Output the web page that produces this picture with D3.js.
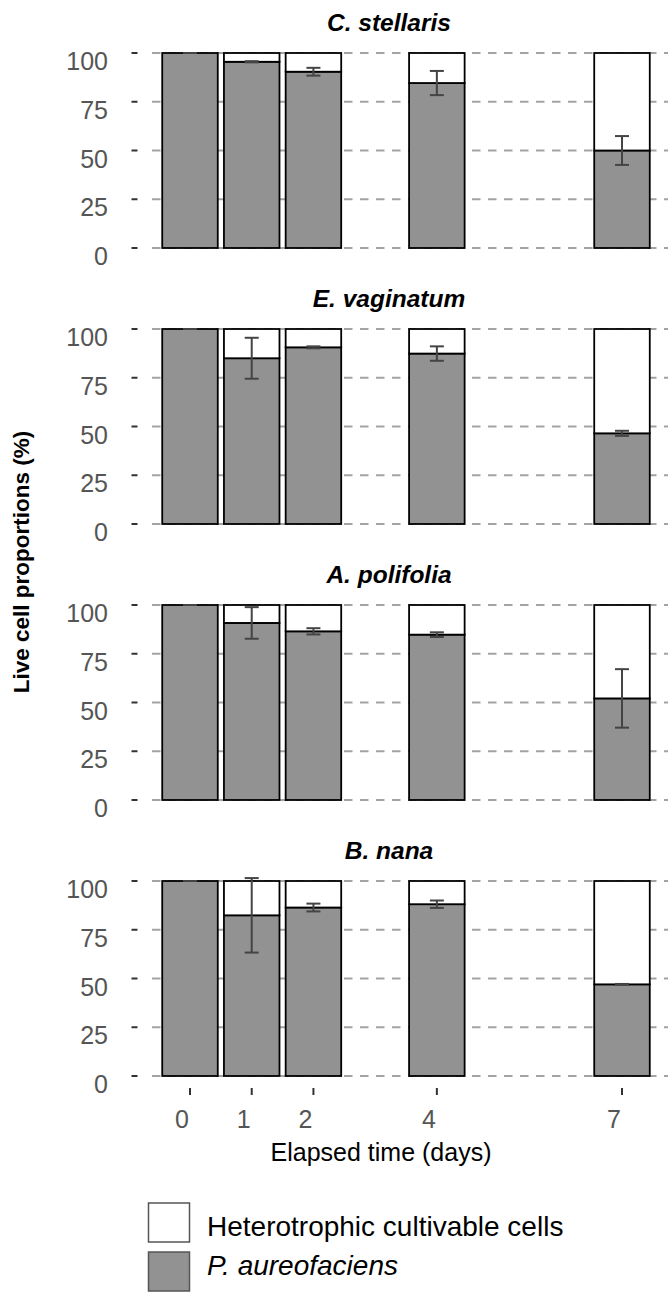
<!DOCTYPE html>
<html>
<head>
<meta charset="utf-8">
<script src="https://cdn.jsdelivr.net/npm/d3@7"></script>
<style>
  html, body { margin: 0; padding: 0; background: #fff; }
  svg { display: block; font-family: "Liberation Sans", Arial, Helvetica, sans-serif; }
</style>
</head>
<body>
<svg id="chart" width="668" height="1292"></svg>
<script>
// Sampling days (continuous x axis)
const days = [0, 1, 2, 4, 7];
// Host plant extracts, one panel each
const plants = ["C. stellaris", "E. vaginatum", "A. polifolia", "B. nana"];

// P. aureofaciens share of live cells (%) and its standard deviation
const aureoStellaris = [100, 95.5, 90.4, 84.6, 50.0];
const aureoVaginatum = [100, 85.0, 90.6, 87.4, 46.5];
const aureoPolifolia = [100, 90.8, 86.5, 84.8, 52.1];
const aureoNana      = [100, 82.4, 86.4, 88.1, 47.0];

const sdStellaris = [0, 0.3, 2.0, 6.2, 7.4];
const sdVaginatum = [0, 10.5, 0.5, 3.7, 1.3];
const sdPolifolia = [0, 8.1, 1.6, 1.2, 15.0];
const sdNana      = [0, 19.1, 2.0, 1.9, 0.2];

// Heterotrophic cultivable cells share (%)
const heteroStellaris = [0, 4.5, 9.6, 15.4, 50.0];
const heteroVaginatum = [0, 15.0, 9.4, 12.6, 53.5];
const heteroPolifolia = [0, 9.2, 13.5, 15.2, 47.9];
const heteroNana      = [0, 17.6, 13.6, 11.9, 53.0];

const yTicks = [0, 25, 50, 75, 100];
const seriesNames = ["Heterotrophic cultivable cells", "P. aureofaciens"];

const aureo = [aureoStellaris, aureoVaginatum, aureoPolifolia, aureoNana];
const sds = [sdStellaris, sdVaginatum, sdPolifolia, sdNana];
const hetero = [heteroStellaris, heteroVaginatum, heteroPolifolia, heteroNana];

const svg = d3.select("#chart");
const grey = "#929292";

const x = d3.scaleLinear().domain([0, 7]).range([190, 622]);
const barW = 0.9 * (x(1) - x(0));
const panelH = 195;
const panelTops = [53, 329, 605, 881];

plants.forEach((name, i) => {
  const top = panelTops[i];
  const y = d3.scaleLinear().domain([0, 100]).range([top + panelH, top]);
  const g = svg.append("g");

  // dashed horizontal grid
  g.selectAll("line.grid").data(yTicks).join("line")
    .attr("x1", 152).attr("x2", 672)
    .attr("y1", d => y(d)).attr("y2", d => y(d))
    .attr("stroke", "#a3a3a3").attr("stroke-width", 1.8)
    .attr("stroke-dasharray", "8.5,7.5");

  // y tick marks and labels
  g.selectAll("line.ytick").data(yTicks).join("line")
    .attr("x1", 131.5).attr("x2", 137.5)
    .attr("y1", d => y(d)).attr("y2", d => y(d))
    .attr("stroke", "#333").attr("stroke-width", 2);
  g.selectAll("text.ylab").data(yTicks).join("text")
    .attr("x", 108).attr("y", d => y(d) + 17)
    .attr("text-anchor", "end")
    .attr("font-size", 25).attr("fill", "#555")
    .text(d => d);

  const rows = days.map((d, j) => ({ day: d, a: aureo[i][j], h: hetero[i][j], sd: sds[i][j] }));

  // P. aureofaciens segment
  g.selectAll("rect.aureo").data(rows).join("rect")
    .attr("x", d => x(d.day) - barW / 2).attr("width", barW)
    .attr("y", d => y(d.a)).attr("height", d => y(0) - y(d.a))
    .attr("fill", grey).attr("stroke", "#000").attr("stroke-width", 1.8);

  // heterotrophic segment stacked on top
  g.selectAll("rect.hetero").data(rows.filter(d => d.h > 0)).join("rect")
    .attr("x", d => x(d.day) - barW / 2).attr("width", barW)
    .attr("y", d => y(d.a + d.h)).attr("height", d => y(d.a) - y(d.a + d.h))
    .attr("fill", "#fff").attr("stroke", "#000").attr("stroke-width", 1.8);

  // error bars on the P. aureofaciens share
  const eb = g.selectAll("g.eb").data(rows).join("g")
    .attr("stroke", "#444").attr("stroke-width", 2);
  eb.append("line")
    .attr("x1", d => x(d.day)).attr("x2", d => x(d.day))
    .attr("y1", d => y(d.a + d.sd)).attr("y2", d => y(d.a - d.sd));
  eb.append("line")
    .attr("x1", d => x(d.day) - 7).attr("x2", d => x(d.day) + 7)
    .attr("y1", d => y(d.a + d.sd)).attr("y2", d => y(d.a + d.sd));
  eb.append("line")
    .attr("x1", d => x(d.day) - 7).attr("x2", d => x(d.day) + 7)
    .attr("y1", d => y(d.a - d.sd)).attr("y2", d => y(d.a - d.sd));

  // panel title
  g.append("text")
    .attr("x", 389).attr("y", top - 22)
    .attr("text-anchor", "middle")
    .attr("font-size", 24.5).attr("font-weight", "bold").attr("font-style", "italic")
    .attr("fill", "#000")
    .text(name);
});

// x axis under the last panel
const xg = svg.append("g");
xg.selectAll("line").data(days).join("line")
  .attr("x1", d => x(d)).attr("x2", d => x(d))
  .attr("y1", 1088).attr("y2", 1095)
  .attr("stroke", "#333").attr("stroke-width", 2);
xg.selectAll("text").data(days).join("text")
  .attr("x", d => x(d) - 8).attr("y", 1128)
  .attr("text-anchor", "middle")
  .attr("font-size", 25).attr("fill", "#555")
  .text(d => d);

svg.append("text")
  .attr("x", 381).attr("y", 1161)
  .attr("text-anchor", "middle")
  .attr("font-size", 25).attr("fill", "#000")
  .text("Elapsed time (days)");

svg.append("text")
  .attr("transform", "translate(29,562) rotate(-90)")
  .attr("text-anchor", "middle")
  .attr("font-size", 22.5).attr("font-weight", "bold").attr("fill", "#000")
  .text("Live cell proportions (%)");

// legend
const legend = svg.append("g");
const legendFill = ["#fff", grey];
const legendY = [1203, 1252];
const legendBase = [1236, 1275];
seriesNames.forEach((s, k) => {
  legend.append("rect")
    .attr("x", 148.5).attr("y", legendY[k])
    .attr("width", 41).attr("height", 39)
    .attr("fill", legendFill[k]).attr("stroke", "#555").attr("stroke-width", 1.5);
  legend.append("text")
    .attr("x", 207).attr("y", legendBase[k])
    .attr("font-size", 28).attr("fill", "#000")
    .attr("font-style", k === 1 ? "italic" : "normal")
    .text(s);
});
</script>
</body>
</html>
